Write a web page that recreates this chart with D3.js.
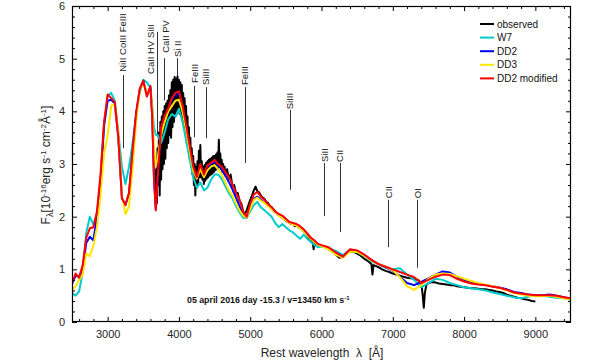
<!DOCTYPE html>
<html><head><meta charset="utf-8">
<script src="https://cdn.jsdelivr.net/npm/d3@7"></script>
<style>
html,body{margin:0;padding:0;background:#fff;}
svg{display:block;font-family:"Liberation Sans",Arial,Helvetica,sans-serif;}
</style></head>
<body>
<svg id="chart" width="610" height="364"></svg>
<script>
// ---------- data ----------
const wave = [2500,2550,2600,2650,2700,2750,2800,2850,2900,2950,3000,3050,3100,3150,3200,3250,3300,3350,3400,3450,3500,3550,3600,3625,3650,3675,3700,3750,3800,3850,3900,3950,4000,4050,4100,4150,4200,4250,4300,4350,4400,4450,4500,4550,4600,4650,4700,4750,4800,4850,4900,4950,5000,5050,5100,5150,5200,5250,5300,5350,5400,5450,5500,5550,5600,5650,5700,5750,5800,5850,5900,5950,6000,6100,6200,6300,6400,6500,6600,6700,6800,6900,7000,7100,7200,7300,7400,7500,7600,7700,7800,7900,8000,8100,8200,8300,8400,8500,8600,8700,8800,8900,9000,9100,9200,9300,9400,9500];

const w7 = [0.55,0.50,0.58,0.95,1.70,2.00,1.85,2.05,2.60,3.70,4.30,4.35,4.20,3.60,2.95,2.62,2.95,3.40,3.95,4.35,4.60,4.55,4.45,4.10,3.70,3.55,3.55,3.40,3.60,3.85,3.95,3.90,4.05,3.80,3.45,3.10,2.75,2.55,2.65,2.50,2.55,2.70,2.80,2.80,2.72,2.58,2.45,2.35,2.20,2.08,1.98,1.98,2.10,2.22,2.28,2.18,2.12,2.06,2.00,1.88,1.80,1.86,1.80,1.74,1.70,1.64,1.58,1.66,1.58,1.52,1.46,1.42,1.44,1.40,1.35,1.27,1.36,1.33,1.25,1.15,1.10,1.03,1.00,1.02,0.90,0.80,0.66,0.74,0.82,0.80,0.74,0.70,0.66,0.64,0.62,0.60,0.56,0.53,0.50,0.47,0.45,0.48,0.51,0.50,0.48,0.46,0.45,0.42];

const dd2 = [0.72,0.88,0.86,1.02,1.50,1.62,1.55,2.00,2.70,3.75,4.20,4.22,4.15,3.50,2.35,2.22,2.45,3.22,3.95,4.42,4.58,4.32,4.45,3.92,2.75,2.15,2.72,3.68,3.90,4.03,4.22,4.32,4.35,4.10,3.72,3.32,2.93,2.73,2.97,2.78,2.95,3.00,3.05,2.97,2.90,2.78,2.66,2.52,2.36,2.20,2.04,1.98,2.18,2.34,2.38,2.32,2.27,2.21,2.15,2.08,2.03,2.00,1.94,1.89,1.87,1.85,1.80,1.75,1.67,1.59,1.54,1.47,1.45,1.41,1.31,1.24,1.37,1.35,1.27,1.18,1.10,1.04,0.97,0.86,0.74,0.70,0.76,0.83,0.90,0.96,0.94,0.86,0.80,0.75,0.72,0.70,0.68,0.65,0.62,0.57,0.55,0.52,0.51,0.51,0.52,0.50,0.47,0.44];

const dd3 = [0.60,0.68,0.80,0.90,1.30,1.25,1.45,1.80,2.40,3.20,3.55,4.10,4.15,3.60,2.40,2.05,2.20,2.90,3.80,4.40,4.55,4.35,4.40,4.10,3.30,2.95,3.10,3.55,3.80,4.00,4.10,4.20,4.22,4.00,3.65,3.25,2.88,2.72,2.90,2.75,2.88,2.95,2.98,2.90,2.80,2.65,2.50,2.40,2.25,2.12,2.02,1.98,2.15,2.32,2.36,2.30,2.26,2.20,2.14,2.08,2.02,1.98,1.93,1.88,1.85,1.83,1.78,1.72,1.65,1.58,1.52,1.46,1.44,1.38,1.28,1.22,1.34,1.33,1.26,1.17,1.10,1.05,0.98,0.85,0.68,0.61,0.70,0.82,0.90,0.92,0.91,0.87,0.82,0.78,0.74,0.71,0.68,0.64,0.60,0.55,0.52,0.50,0.49,0.49,0.50,0.48,0.45,0.42];

const dd2mod = [0.74,0.92,0.84,1.08,1.60,1.78,1.80,2.10,2.80,3.80,4.32,4.25,4.18,3.50,2.35,2.22,2.45,3.25,3.98,4.42,4.58,4.28,4.48,3.90,2.70,2.12,2.70,3.70,3.92,4.05,4.25,4.35,4.38,4.12,3.75,3.35,2.95,2.75,3.00,2.80,2.98,3.02,3.08,3.00,2.95,2.85,2.75,2.62,2.45,2.32,2.10,2.00,2.25,2.42,2.47,2.38,2.32,2.24,2.18,2.10,2.05,2.02,1.96,1.90,1.88,1.86,1.82,1.76,1.68,1.60,1.55,1.48,1.46,1.42,1.32,1.24,1.38,1.36,1.28,1.18,1.10,1.05,1.00,0.95,0.90,0.85,0.74,0.80,0.86,0.90,0.89,0.82,0.77,0.73,0.71,0.70,0.67,0.65,0.61,0.56,0.54,0.52,0.51,0.51,0.51,0.50,0.47,0.45];

const obsWave = [3670,3680,3690,3700,3710,3720,3730,3740,3750,3760,3770,3780,3790,3800,3810,3820,3830,3840,3850,3860,3870,3880,3890,3900,3910,3920,3930,3940,3950,3960,3970,3980,3990,4000,4010,4020,4030,4040,4050,4060,4070,4080,4090,4100,4110,4120,4130,4140,4150,4160,4170,4180,4190,4200,4210,4220,4230,4240,4250,4260,4270,4280,4290,4300,4310,4320,4330,4340,4350,4360,4370,4380,4390,4400,4410,4420,4430,4440,4450,4460,4470,4480,4490,4500,4510,4520,4530,4540,4550,4560,4570,4580,4590,4600,4610,4620,4630,4640,4650,4675,4700,4725,4750,4775,4800,4825,4850,4875,4900,4925,4950,4975,5000,5025,5050,5075,5100,5125,5150,5175,5200,5225,5250,5275,5300,5325,5350,5375,5400,5425,5450,5475,5500,5525,5550,5575,5600,5625,5650,5675,5700,5725,5750,5775,5800,5825,5850,5875,5890,5900,5925,5950,5975,6000,6050,6100,6150,6200,6250,6300,6350,6400,6450,6500,6550,6600,6650,6700,6715,6730,6750,6800,6850,6900,6950,7000,7050,7100,7150,7200,7250,7300,7350,7400,7420,7435,7450,7470,7500,7550,7600,7650,7700,7750,7800,7850,7900,7950,8000,8050,8100,8150,8200,8250,8300,8350,8400,8450,8500,8550,8600,8650,8700,8750,8800,8850,8900,8950,9000];

const observed = [2.35,2.90,2.25,3.30,2.60,3.60,2.40,3.80,2.70,3.90,2.90,4.00,3.00,4.10,3.10,4.15,3.30,4.20,3.40,4.30,3.55,4.40,3.50,4.55,3.70,4.60,3.80,4.65,3.90,4.62,3.95,4.66,4.00,4.60,3.95,4.55,3.90,4.50,3.85,4.35,3.70,4.25,3.55,4.10,3.40,3.90,3.25,3.70,3.10,3.50,2.95,3.30,2.80,3.15,2.60,3.00,2.40,2.95,2.55,3.05,2.65,3.25,2.75,3.36,2.75,3.05,2.70,2.95,2.62,2.98,2.68,3.02,2.72,3.05,2.75,3.08,2.78,3.10,2.80,3.12,2.82,3.15,2.85,3.15,2.88,3.18,2.90,3.22,2.92,3.46,2.95,3.20,2.90,3.08,2.85,3.00,2.82,2.95,2.78,2.90,2.72,2.80,2.58,2.60,2.45,2.45,2.30,2.25,2.10,2.05,2.12,2.22,2.32,2.40,2.50,2.57,2.48,2.46,2.40,2.36,2.34,2.28,2.26,2.20,2.18,2.14,2.10,2.06,2.04,2.00,1.98,1.96,1.92,1.90,1.88,1.86,1.86,1.82,1.84,1.80,1.78,1.76,1.72,1.70,1.64,1.60,1.56,1.52,1.38,1.50,1.48,1.46,1.44,1.44,1.42,1.38,1.34,1.28,1.22,1.24,1.32,1.34,1.33,1.30,1.26,1.20,1.16,1.10,0.90,1.08,1.07,1.04,1.00,0.97,0.95,0.92,0.90,0.88,0.86,0.84,0.83,0.82,0.80,0.74,0.50,0.27,0.55,0.70,0.74,0.76,0.75,0.73,0.72,0.71,0.70,0.70,0.68,0.67,0.66,0.65,0.64,0.64,0.63,0.62,0.62,0.61,0.60,0.58,0.57,0.55,0.52,0.50,0.48,0.46,0.45,0.43,0.42,0.40,0.39];

const seriesNames = ["observed","W7","DD2","DD3","DD2 modified"];
const seriesColors = ["#000000","#00cccc","#0000ff","#ffe600","#ff0000"];

const xMajorTicks = [3000,4000,5000,6000,7000,8000,9000];
const yMajorTicks = [0,1,2,3,4,5,6];

const lineIds      = ["NiII CoIII FeIII","CaII HV SiII","CaII PV","Si II","FeIII","SiIII","FeIII","SiIII","SiII","CII","CII","OI"];
const lineWave     = [3215,3692,3797,3973,4218,4375,4927,5558,6039,6259,6937,7344];
const lineTextWave = [3215,3608,3814,3983,4225,4375,4927,5558,6039,6259,6937,7344];
const lineTextFlux = [4.75,4.71,5.11,5.03,4.54,4.50,4.50,4.04,3.04,3.04,2.35,2.35];
const lineTopFlux  = [4.69,5.51,5.01,5.01,4.48,4.46,4.46,4.03,3.02,3.02,2.32,2.32];
const lineBotFlux  = [3.30,3.51,4.21,4.59,3.51,3.49,3.02,2.51,2.01,1.71,1.42,1.03];

// ---------- layout ----------
const svg = d3.select("#chart");
const L=72, R=571, T=6, B=322;
const x = d3.scaleLinear().domain([2500,9500]).range([L,R]);
const y = d3.scaleLinear().domain([0,6]).range([B,T]);

svg.append("rect").attr("width",610).attr("height",364).attr("fill","#fff");

// annotations (under curves)
const ann = svg.append("g");
lineIds.forEach((t,i)=>{
  const xl = Math.round(x(lineWave[i]))+0.5;
  ann.append("line").attr("x1",xl).attr("x2",xl)
     .attr("y1",y(lineTopFlux[i])).attr("y2",y(lineBotFlux[i]))
     .attr("stroke","#333").attr("stroke-width",1);
  const xt = x(lineTextWave[i]);
  ann.append("text")
     .attr("transform",`translate(${xt},${y(lineTextFlux[i])}) rotate(-90)`)
     .attr("dy","0.35em").attr("font-size",9.5).attr("fill","#222")
     .text(t);
});

// curves
svg.append("clipPath").attr("id","clip").append("rect")
  .attr("x",L).attr("y",T).attr("width",R-L).attr("height",B-T);
const gCurves = svg.append("g").attr("clip-path","url(#clip)");
const lineGen = d3.line().x(d=>x(d[0])).y(d=>y(d[1]));
const allSeries = [
  d3.zip(obsWave, observed),
  d3.zip(wave, w7),
  d3.zip(wave, dd2),
  d3.zip(wave, dd3),
  d3.zip(wave, dd2mod)
];
allSeries.forEach((s,i)=>{
  gCurves.append("path").attr("d",lineGen(s)).attr("fill","none")
    .attr("stroke",seriesColors[i]).attr("stroke-width",2)
    .attr("stroke-linejoin","round");
});

// axes
const fontTick = 11;
const xMinor = d3.range(2600,9500,200).filter(v=>v%1000!==0);
const yMinor = d3.range(0,6.01,0.2).map(v=>+v.toFixed(1)).filter(v=>Math.abs(v-Math.round(v))>1e-6);

function styleAxis(g){ g.select(".domain").remove(); g.selectAll("line").attr("stroke","#000"); g.selectAll("text").attr("font-size",fontTick).attr("fill","#262626").attr("font-family","Liberation Sans, Arial, sans-serif"); }

svg.append("g").attr("transform",`translate(0,${B})`)
  .call(d3.axisBottom(x).tickValues(xMajorTicks).tickSize(-5).tickPadding(8).tickFormat(d3.format("d"))).call(styleAxis);
svg.append("g").attr("transform",`translate(0,${B})`)
  .call(d3.axisBottom(x).tickValues(xMinor).tickSize(-3).tickFormat("")).call(styleAxis);
svg.append("g").attr("transform",`translate(0,${T})`)
  .call(d3.axisTop(x).tickValues(xMajorTicks).tickSize(-5).tickFormat("")).call(styleAxis);
svg.append("g").attr("transform",`translate(0,${T})`)
  .call(d3.axisTop(x).tickValues(xMinor).tickSize(-3).tickFormat("")).call(styleAxis);
svg.append("g").attr("transform",`translate(${L},0)`)
  .call(d3.axisLeft(y).tickValues(yMajorTicks).tickSize(-5).tickPadding(7).tickFormat(d3.format("d"))).call(styleAxis);
svg.append("g").attr("transform",`translate(${L},0)`)
  .call(d3.axisLeft(y).tickValues(yMinor).tickSize(-3).tickFormat("")).call(styleAxis);
svg.append("g").attr("transform",`translate(${R},0)`)
  .call(d3.axisRight(y).tickValues(yMajorTicks).tickSize(-5).tickFormat("")).call(styleAxis);
svg.append("g").attr("transform",`translate(${R},0)`)
  .call(d3.axisRight(y).tickValues(yMinor).tickSize(-3).tickFormat("")).call(styleAxis);

svg.append("rect").attr("x",L+0.5).attr("y",T+0.5).attr("width",R-L-1).attr("height",B-T-1)
  .attr("fill","none").attr("stroke","#000").attr("stroke-width",1.2);

// legend
const lg = svg.append("g");
seriesNames.forEach((n,i)=>{
  const yy = 24 + i*13.6;
  lg.append("line").attr("x1",480).attr("x2",494).attr("y1",yy).attr("y2",yy)
    .attr("stroke",seriesColors[i]).attr("stroke-width",2);
  lg.append("text").attr("x",497).attr("y",yy).attr("dy","0.35em")
    .attr("font-size",10).attr("fill","#111").text(n);
});

// subtitle
const sub = svg.append("text").attr("x",187).attr("y",303)
  .attr("font-size",8.8).attr("font-weight","bold").attr("fill","#111");
sub.append("tspan").text("05 april 2016 day -15.3 / v=13450 km s");
sub.append("tspan").attr("dy",-3.5).attr("font-size",6).text("-1");

// axis labels
svg.append("text").attr("x",322).attr("y",357).attr("text-anchor","middle")
  .attr("font-size",12).attr("fill","#262626").attr("xml:space","preserve")
  .text("Rest wavelength  \u03bb  [\u00c5]");

const yl = svg.append("text").attr("transform","translate(50,165) rotate(-90)")
  .attr("text-anchor","middle").attr("font-size",12).attr("fill","#262626");
yl.append("tspan").text("F");
yl.append("tspan").attr("dy",3).attr("font-size",9).text("\u03bb");
yl.append("tspan").attr("dy",-3).text("[10");
yl.append("tspan").attr("dy",-4).attr("font-size",8).text("-16");
yl.append("tspan").attr("dy",4).text("erg s");
yl.append("tspan").attr("dy",-4).attr("font-size",8).text("-1");
yl.append("tspan").attr("dy",4).text(" cm");
yl.append("tspan").attr("dy",-4).attr("font-size",8).text("-2");
yl.append("tspan").attr("dy",4).text("\u00c5");
yl.append("tspan").attr("dy",-4).attr("font-size",8).text("-1");
yl.append("tspan").attr("dy",4).text("]");
</script>
</body></html>
